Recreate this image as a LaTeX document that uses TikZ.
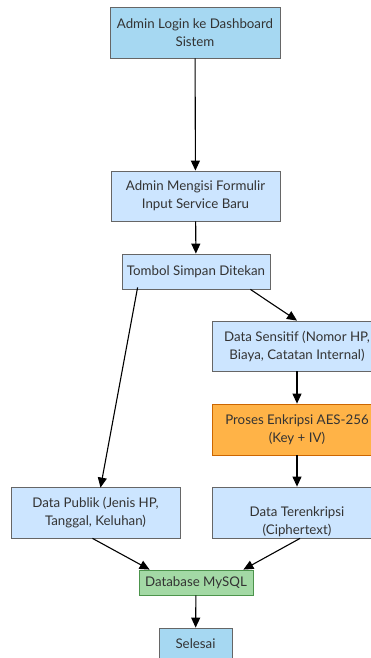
\documentclass[tikz,border=0pt]{standalone}
\usepackage{fontspec}
\setmainfont{Lato}
\usetikzlibrary{arrows.meta}
\definecolor{bluedark}{HTML}{A6D8F2}
\definecolor{bluelight}{HTML}{CCE5FF}
\definecolor{orangef}{HTML}{FFB347}
\definecolor{greenf}{HTML}{A3D9A5}
\definecolor{edgec}{HTML}{666666}
\definecolor{textc}{HTML}{333333}
\tikzset{
  box/.style={draw=edgec, line width=0.8pt, fill=bluelight, align=center, inner sep=0pt,
    font=\fontsize{13.3}{18}\selectfont, text=textc},
  lbl/.style={align=center, inner sep=0pt, font=\fontsize{13.3}{18}\selectfont, text=textc},
  arr/.style={line width=1.1pt, -{Triangle[length=10pt,width=9pt]}}
}
\begin{document}
\begin{tikzpicture}[x=1pt,y=-1pt]
\useasboundingbox (0,0) rectangle (371,658);
\clip (0,0) rectangle (371,658);
\node[box, fill=bluedark, minimum width=170pt, minimum height=51pt] (login) at (195,32.5) {Admin Login ke Dashboard\\Sistem};
\node[box, minimum width=169pt, minimum height=50pt] (form) at (195.5,196) {Admin Mengisi Formulir\\Input Service Baru};
\node[box, minimum width=148pt, minimum height=35pt] (simpan) at (196,271.5) {Tombol Simpan Ditekan};
\node[box, minimum width=170pt, minimum height=50pt] (sensitif) at (297,346) {Data Sensitif (Nomor HP,\\Biaya, Catatan Internal)};
\node[box, fill=orangef, draw=orange!80!black, minimum width=170pt, minimum height=51pt] (enkripsi) at (297,429.5) {Proses Enkripsi AES-256\\(Key + IV)};
\node[box, minimum width=169pt, minimum height=51pt] (publik) at (95.5,512.5) {Data Publik (Jenis HP,\\Tanggal, Keluhan)};
\node[box, minimum width=170pt, minimum height=51pt] (terenkripsi) at (297,512.5) {};
\node[lbl] (terenkripsitext) at (297,521.5) {Data Terenkripsi\\(Ciphertext)};
\node[box, fill=greenf, draw=green!40!black!70, minimum width=114pt, minimum height=25pt] (db) at (196,582.5) {Database MySQL};
\node[box, fill=bluedark, minimum width=73pt, minimum height=32pt] (selesai) at (195.5,644) {Selesai};
\draw[arr] (login) -- (form);
\draw[arr] (form) -- (simpan);
\draw[arr] ([xshift=-20pt]simpan.south east) -- (sensitif.north);
\draw[arr] ([xshift=16pt,yshift=2pt]simpan.south west) -- ([xshift=5pt,yshift=-1pt]publik.north);
\draw[arr] (sensitif) -- (enkripsi);
\draw[arr] (enkripsi) -- (terenkripsi);
\draw[arr] ([xshift=-3pt]publik.south) -- ([xshift=11pt]db.north west);
\draw[arr] ([xshift=3pt]terenkripsi.south) -- ([xshift=-10pt]db.north east);
\draw[arr] (db) -- (selesai);
\end{tikzpicture}
\end{document}
